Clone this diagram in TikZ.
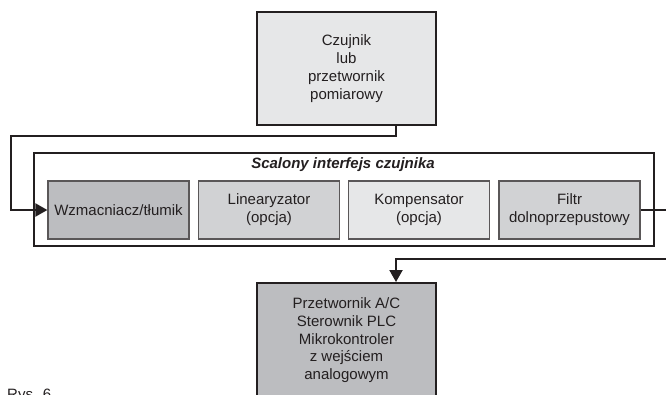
\documentclass[tikz,border=0pt]{standalone}
\usepackage{fontspec}
\setmainfont{Liberation Sans}
\usetikzlibrary{arrows.meta}
\definecolor{ink}{HTML}{231F20}
\definecolor{gA}{HTML}{E6E7E8}
\definecolor{gB}{HTML}{D1D2D4}
\definecolor{gC}{HTML}{BCBDC0}
\tikzset{
  txt/.style={font=\fontsize{15}{17.8}\selectfont, text=ink, align=center},
  bigbox/.style={txt, draw=ink, line width=2pt, minimum width=179pt, inner sep=0pt},
  smallbox/.style={txt, draw=ink!75, line width=1.2pt, minimum width=141pt, minimum height=58pt, inner sep=0pt},
  conn/.style={draw=ink, line width=2pt},
  tip/.style={-{Triangle[length=12pt,width=13pt]}}
}
\begin{document}
\begin{tikzpicture}[x=1pt,y=-1pt]
\useasboundingbox (0,0) rectangle (666,394);
\clip (0,0) rectangle (666,394);
\fill[white] (0,0) rectangle (666,394);
% top box
\node[bigbox, fill=gA, minimum height=113pt] (top) at (346.5,68.5) {Czujnik\\lub\\przetwornik\\pomiarowy};
% frame
\node[draw=ink, line width=2pt, minimum width=620pt, minimum height=93pt, inner sep=0pt] (frame) at (344,199) {};
\node[txt, font=\fontsize{15}{17.8}\selectfont\bfseries\itshape] (lbl) at (343,165) {Scalony interfejs czujnika};
% inner boxes
\node[smallbox, fill=gC] (amp) at (118.5,210) {Wzmacniacz/tłumik};
\node[smallbox, fill=gB] (lin) at (269,210) {Linearyzator\\(opcja)};
\node[smallbox, fill=gA] (comp) at (419,210) {Kompensator\\(opcja)};
\node[smallbox, fill=gB] (filt) at (569.5,210) {Filtr\\dolnoprzepustowy};
% bottom box
\node[bigbox, fill=gC, minimum height=140pt, anchor=north] (bot) at (346.5,282) {};
\node[txt, anchor=north] (bottxt) at (346.5,294) {Przetwornik A/C\\Sterownik PLC\\Mikrokontroler\\z wejściem\\analogowym};
% caption (cut off at the lower edge, as in the reference)
\node[txt, anchor=north west, inner sep=0pt] (cap) at (7,389) {Rys. 6};
% connectors
\coordinate (c1) at (11,136);
\coordinate (r1) at (690,259);
\draw[conn, tip] ([xshift=-41pt]top.south east) |- (c1) |- (amp.west);
\draw[conn, tip] (filt.east) -| (r1) -| ([xshift=-41pt]bot.north east);
\end{tikzpicture}
\end{document}
